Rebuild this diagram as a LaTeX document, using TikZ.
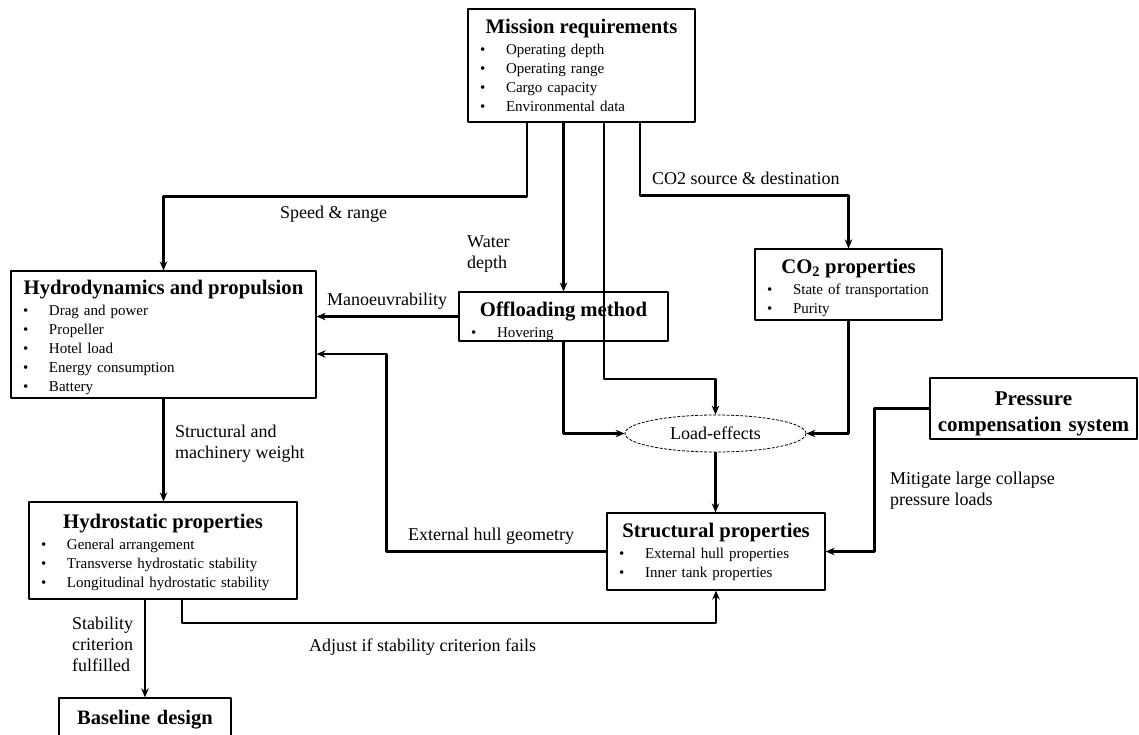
\documentclass[tikz,border=0pt]{standalone}
\usepackage{fontspec}
\setmainfont{Liberation Serif}
\usetikzlibrary{shapes.geometric,arrows.meta}
\newcommand{\ttl}[1]{{\fontsize{20.7}{19}\selectfont\bfseries #1}\\[2pt]}
\newcommand{\itm}[1]{\makebox[\linewidth][l]{\hspace{1pt}\makebox[26pt][l]{\textbullet}#1}}
\begin{document}
\begin{tikzpicture}[x=1pt,y=-1pt,line join=round,>={Stealth[length=9pt,width=7.5pt]}]
        \tikzset{box/.style 2 args={draw,line width=1.2pt,rectangle,inner xsep=11pt,inner ysep=0pt,
                align=center,text width=#1,minimum height=#2,font=\fontsize{15}{19}\selectfont},
            lbl/.style={font=\fontsize{18}{21}\selectfont,align=left,inner sep=0pt,anchor=west},
            conn/.style={->,line width=2.2pt}}
        \useasboundingbox (0,0) rectangle (1139,735);
        \node[box={205pt}{113pt}] (mission) at (581.5,65.5) {\ttl{Mission requirements}\itm{Operating depth}\\\itm{Operating range}\\\itm{Cargo capacity}\\\itm{Environmental data}};
        \node[box={283pt}{127pt}] (hydro) at (163.5,334.5) {\ttl{\rule{0pt}{20pt}Hydrodynamics and propulsion}\itm{Drag and power}\\\itm{Propeller}\\\itm{Hotel load}\\\itm{Energy consumption}\\\itm{Battery}};
        \node[box={187pt}{49pt}] (offload) at (563.5,316.5) {\ttl{\rule{0pt}{24pt}Offloading method}\itm{Hovering}};
        \node[box={165pt}{71pt}] (co2) at (848.5,284.5) {\ttl{\rule{0pt}{22pt}CO\textsubscript{2} properties}\itm{State of transportation}\\\itm{Purity}};
        \node[draw,ellipse,dashed,dash pattern=on 3pt off 1.5pt,line width=0.8pt,minimum width=181pt,minimum height=37pt,inner sep=0pt,font=\fontsize{18}{21}\selectfont] (load) at (715.5,433.5) {Load-effects};
        \node[box={200pt}{61pt},inner xsep=3.5pt,font=\fontsize{21}{26}\selectfont\bfseries] (press) at (1033.5,408.5) {\rule{0pt}{25pt}Pressure\\compensation system};
        \node[box={196pt}{77pt}] (struct) at (716,551.5) {\ttl{Structural properties}\itm{External hull properties}\\\itm{Inner tank properties}};
        \node[box={246pt}{97pt}] (hstat) at (163,550.5) {\ttl{\rule{0pt}{18pt}Hydrostatic properties}\itm{General arrangement}\\\itm{Transverse hydrostatic stability}\\\itm{Longitudinal hydrostatic stability}};
        \node[box={150pt}{44pt},font=\fontsize{20.5}{24}\selectfont\bfseries] (base) at (145,720) {Baseline design};
        \node[lbl] (speedlbl) at (280,214) {Speed \& range};
        \node[lbl] (depthlbl) at (467,254) {Water\\depth};
        \node[lbl] (co2lbl) at (652,178) {CO2 source \& destination};
        \node[lbl] (manlbl) at (327,301) {Manoeuvrability};
        \node[lbl] (mitlbl) at (890,491) {Mitigate large collapse\\pressure loads};
        \node[lbl] (extlbl) at (408,536) {External hull geometry};
        \node[lbl] (weightlbl) at (175,444) {Structural and\\machinery weight};
        \node[lbl] (stablbl) at (72,644) {Stability\\criterion\\fulfilled};
        \node[lbl] (adjlbl) at (309,647) {Adjust if stability criterion fails};
        \draw[conn] ([xshift=-54.5pt]mission.south) -- ++(0,74) -| (hydro.north);
        \draw[conn] (offload.north |- mission.south) -- (offload.north);
        \draw[conn] ([xshift=22.5pt]mission.south) -- ++(0,256) -| (load.north);
        \draw[conn] ([xshift=58.5pt]mission.south) -- ++(0,73) -| (co2.north);
        \draw[conn] (offload.west) -- (offload.west -| hydro.east);
        \draw[conn] (offload.south) |- (load.west);
        \draw[conn] (co2.south) |- (load.east);
        \draw[conn] (load.south) -- (load.south |- struct.north);
        \draw[conn] (press.west) -- ++(-55,0) |- (struct.east);
        \draw[conn] (struct.west) -- ++(-220,0) |- ([yshift=-19.5pt]hydro.east);
        \draw[conn] (hydro.south) -- (hydro.south |- hstat.north);
        \draw[conn] (base.north |- hstat.south) -- (base.north);
        \draw[conn] ([xshift=19pt]hstat.south) -- ++(0,23) -| (struct.south);
    \end{tikzpicture}
\end{document}
